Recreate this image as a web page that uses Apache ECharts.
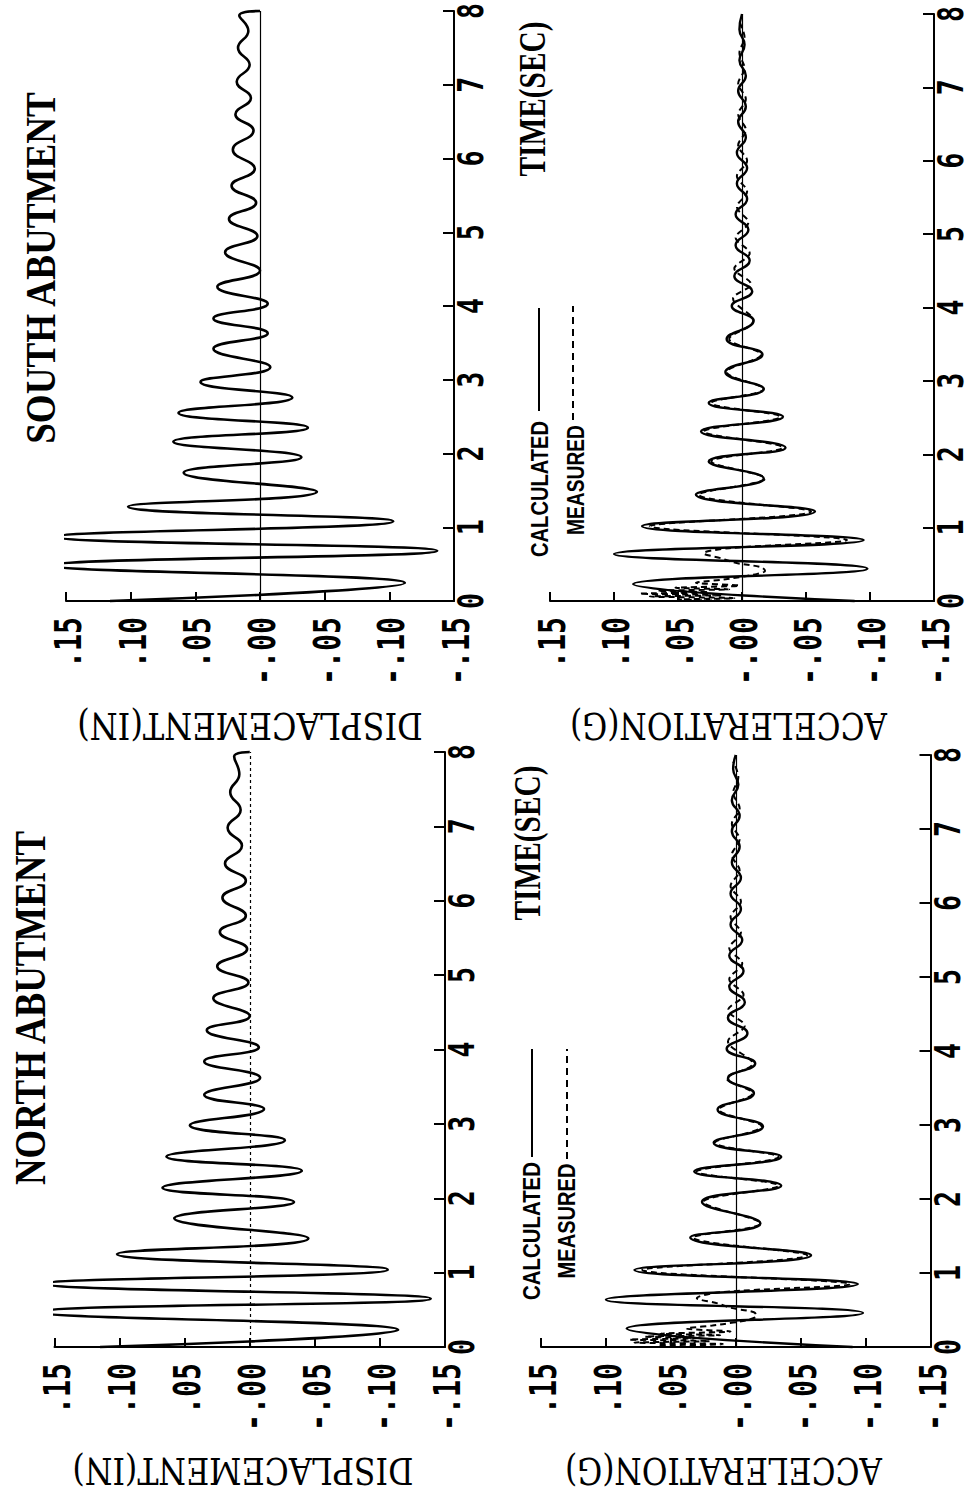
<!DOCTYPE html>
<html>
<head>
<meta charset="utf-8">
<script src="https://cdn.jsdelivr.net/npm/echarts@6/dist/echarts.min.js"></script>
<style>
html,body{margin:0;padding:0;background:#fff;}
#c{width:974px;height:1492px;}
</style>
</head>
<body>
<div id="c"></div>
<script>
// ---------- tick labels ----------
const timeTicks = [0, 1, 2, 3, 4, 5, 6, 7, 8];
const timeTickLabels = ['0', '1', '2', '3', '4', '5', '6', '7', '8'];
const valueTicks = [0.15, 0.10, 0.05, 0, -0.05, -0.10, -0.15];
const valueTickLabels = ['.15', '.10', '.05', '-.00', '-.05', '-.10', '-.15'];

// ---------- texts ----------
const titleSouth = 'SOUTH ABUTMENT';
const titleNorth = 'NORTH ABUTMENT';
const nameDisp = 'DISPLACEMENT(IN)';
const nameAcc = 'ACCELERATION(G)';
const nameTime = 'TIME(SEC)';
const legendCalc = 'CALCULATED';
const legendMeas = 'MEASURED';

// ---------- South abutment displacement (in) vs time (sec) ----------
const southDispT = [0.00,0.245,0.48,0.68,0.87,1.08,1.28,1.48,1.74,1.95,
  2.16,2.35,2.55,2.76,2.97,3.17,3.42,3.63,3.83,4.03,
  4.26,4.48,4.73,4.95,5.18,5.40,5.63,5.86,6.12,6.38,
  6.60,6.82,7.04,7.27,7.50,7.73,7.94,8.00];
const southDispV = [0.116,-0.112,0.160,-0.137,0.157,-0.103,0.102,-0.044,0.059,-0.032,
  0.067,-0.037,0.063,-0.025,0.046,-0.008,0.036,-0.006,0.036,-0.006,
  0.033,0.000,0.027,0.002,0.024,0.003,0.022,0.004,0.021,0.005,
  0.019,0.007,0.018,0.008,0.017,0.009,0.016,0.000];

// ---------- South abutment acceleration (g) ----------
const southCalcT = [0.00,0.23,0.44,0.64,0.83,1.02,1.22,1.45,1.67,1.90,
  2.09,2.31,2.51,2.70,2.89,3.12,3.36,3.57,3.82,4.02,
  4.22,4.43,4.64,4.85,5.06,5.27,5.48,5.69,5.90,6.11,
  6.32,6.53,6.74,6.95,7.16,7.37,7.58,7.79,8.00];
const southCalcV = [-0.088,0.085,-0.098,0.100,-0.095,0.078,-0.057,0.036,-0.017,0.026,
  -0.034,0.032,-0.032,0.026,-0.017,0.013,-0.016,0.012,-0.009,0.008,
  -0.008,0.006,-0.006,0.005,-0.005,0.005,-0.004,0.004,-0.004,0.004,
  -0.003,0.003,-0.003,0.003,-0.003,0.002,-0.002,0.002,0.000];
const southMeasT = [0.00,0.02,0.04,0.06,0.08,0.10,0.12,0.14,0.16,0.18,
  0.21,0.25,0.29,0.33,0.37,0.41,0.46,0.52,0.58,0.65,
  0.72,0.83,1.02,1.22,1.45,1.67,1.90,2.09,2.31,2.51,
  2.70,2.89,3.12,3.36,3.57,3.82,4.12,4.32,4.53,4.74,
  4.95,5.16,5.37,5.58,5.79,6.00,6.21,6.42,6.63,6.84,
  7.05,7.26,7.47,7.68,7.89];
const southMeasV = [0.000,0.050,0.006,0.072,0.016,0.080,0.026,0.066,0.010,0.052,
  0.002,0.036,0.016,0.000,-0.012,-0.018,-0.015,0.005,0.016,0.030,
  0.010,-0.082,0.072,-0.054,0.034,-0.018,0.024,-0.032,0.030,-0.030,
  0.024,-0.017,0.012,-0.015,0.010,-0.009,0.007,-0.007,0.006,-0.006,
  0.005,-0.005,0.004,-0.004,0.004,-0.004,0.003,-0.003,0.003,-0.003,
  0.003,-0.002,0.002,-0.002,0.002];

// ---------- North abutment displacement (in) ----------
const northDispT = [0.00,0.23,0.47,0.65,0.85,1.04,1.25,1.46,1.73,1.95,
  2.14,2.37,2.56,2.78,2.98,3.20,3.39,3.62,3.84,4.03,
  4.26,4.45,4.69,4.90,5.12,5.35,5.58,5.80,6.04,6.27,
  6.50,6.74,6.98,7.22,7.46,7.70,7.94,8.00];
const northDispV = [0.115,-0.114,0.161,-0.139,0.157,-0.106,0.102,-0.045,0.058,-0.034,
  0.067,-0.040,0.064,-0.027,0.046,-0.011,0.035,-0.008,0.035,-0.007,
  0.033,0.000,0.028,0.001,0.025,0.002,0.023,0.003,0.021,0.003,
  0.019,0.006,0.017,0.007,0.015,0.008,0.012,0.000];

// ---------- North abutment acceleration (g) ----------
const northCalcT = [0.00,0.25,0.46,0.64,0.85,1.04,1.24,1.48,1.67,1.96,
  2.18,2.37,2.57,2.76,2.98,3.21,3.43,3.63,3.83,4.03,
  4.24,4.45,4.66,4.87,5.08,5.29,5.50,5.71,5.92,6.13,
  6.34,6.55,6.76,6.97,7.18,7.39,7.60,7.81,8.00];
const northCalcV = [-0.090,0.084,-0.098,0.100,-0.094,0.078,-0.058,0.035,-0.019,0.026,
  -0.035,0.032,-0.035,0.017,-0.021,0.014,-0.014,0.006,-0.015,0.007,
  -0.009,0.006,-0.007,0.005,-0.006,0.005,-0.005,0.004,-0.004,0.004,
  -0.004,0.003,-0.003,0.003,-0.003,0.003,-0.002,0.002,0.000];
const northMeasT = [0.00,0.02,0.04,0.06,0.08,0.10,0.12,0.14,0.16,0.18,
  0.21,0.25,0.29,0.33,0.37,0.42,0.47,0.53,0.59,0.66,
  0.74,0.85,1.04,1.24,1.48,1.67,1.96,2.18,2.37,2.57,
  2.76,2.98,3.21,3.43,3.63,3.83,4.13,4.34,4.55,4.76,
  4.97,5.18,5.39,5.60,5.81,6.02,6.23,6.44,6.65,6.86,
  7.07,7.28,7.49,7.70,7.91];
const northMeasV = [0.000,0.060,0.010,0.078,0.020,0.082,0.030,0.070,0.012,0.058,
  0.004,0.038,0.018,0.002,-0.010,-0.016,-0.014,0.004,0.014,0.030,
  0.012,-0.088,0.072,-0.055,0.033,-0.019,0.025,-0.033,0.030,-0.033,
  0.016,-0.020,0.013,-0.013,0.007,-0.013,0.006,-0.007,0.006,-0.006,
  0.005,-0.005,0.005,-0.004,0.004,-0.004,0.004,-0.003,0.003,-0.003,
  0.003,-0.003,0.002,-0.002,0.002];

// ---------- build ----------
function zip(vals, times) { return vals.map((v, i) => [v, times[i]]); }

const grids = [
  {left: 66, top: 11, width: 388, height: 590},
  {left: 550, top: 14, width: 384, height: 587},
  {left: 54.5, top: 752, width: 390.5, height: 595},
  {left: 541, top: 755, width: 389.5, height: 592}
];

const axisLineStyle = {color: '#000', width: 2};
const xAxes = grids.map((g, i) => ({
  type: 'value', gridIndex: i, min: -0.15, max: 0.15, interval: 0.05,
  inverse: true, position: 'bottom',
  axisLine: {show: true, onZero: false, lineStyle: axisLineStyle},
  axisTick: {show: true, inside: true, length: 9, lineStyle: {color: '#000', width: 2}},
  axisLabel: {show: false}, splitLine: {show: false}
}));
const yAxes = grids.map((g, i) => ({
  type: 'value', gridIndex: i, min: 0, max: 8, interval: 1, position: 'right',
  axisLine: {show: true, onZero: false, lineStyle: axisLineStyle},
  axisTick: {show: true, inside: true, length: 11, lineStyle: {color: '#000', width: 2}},
  axisLabel: {show: false}, splitLine: {show: false}
}));

function zeroLine(dashed) {
  return {
    silent: true, symbol: 'none', label: {show: false},
    lineStyle: {color: '#000', width: 1.2, type: dashed ? [3, 3] : 'solid'},
    data: [{xAxis: 0}]
  };
}
function lineSeries(i, data, opts) {
  return Object.assign({
    type: 'line', xAxisIndex: i, yAxisIndex: i, data: data,
    symbol: 'none', smooth: 0.5, clip: false, animation: false,
    lineStyle: {color: '#000', width: 2.4}
  }, opts || {});
}

const series = [
  lineSeries(0, zip(southDispV, southDispT), {markLine: zeroLine(false), lineStyle: {color: '#000', width: 2.6}}),
  lineSeries(1, zip(southCalcV, southCalcT), {markLine: zeroLine(false), lineStyle: {color: '#000', width: 2.4}}),
  lineSeries(1, zip(southMeasV, southMeasT), {smooth: 0.35, lineStyle: {color: '#000', width: 2, type: [6, 4]}}),
  lineSeries(2, zip(northDispV, northDispT), {markLine: zeroLine(true), lineStyle: {color: '#000', width: 2.6}}),
  lineSeries(3, zip(northCalcV, northCalcT), {markLine: zeroLine(false), lineStyle: {color: '#000', width: 2.4}}),
  lineSeries(3, zip(northMeasV, northMeasT), {smooth: 0.35, lineStyle: {color: '#000', width: 2, type: [6, 4]}})
];

const chart = echarts.init(document.getElementById('c'), null, {renderer: 'svg', width: 974, height: 1492});
chart.setOption({
  animation: false,
  backgroundColor: '#fff',
  grid: grids.map(g => Object.assign({containLabel: false, outerBoundsMode: 'none'}, g)),
  xAxis: xAxes,
  yAxis: yAxes,
  series: series
});

// ---------- text helpers (rotated, condensed like the plotter lettering) ----------
const mctx = document.createElement('canvas').getContext('2d');
function measure(str, size, family, weight) {
  mctx.font = (weight || 'normal') + ' ' + size + 'px ' + family;
  return mctx.measureText(str).width;
}
function txt(str, x, y, rot, size, family, weight, opts) {
  opts = opts || {};
  let sx = 1;
  if (opts.len) sx = opts.len / measure(str, size, family, weight);
  if (opts.sx) sx = opts.sx;
  return {
    type: 'text', x: x, y: y, rotation: rot, scaleX: sx, scaleY: 1, silent: true,
    style: {
      text: str, fontSize: size, fontFamily: family, fontWeight: weight || 'normal',
      fill: '#000', align: opts.align || 'center', verticalAlign: 'middle',
      textAlign: opts.align || 'center', textVerticalAlign: 'middle'
    }
  };
}
const R90 = Math.PI / 2;
const monoFont = "'DejaVu Sans Mono'";
const monoSize = 38;
const timeSize = 35;
const monoWeight = 'bold';
const monoSx = 17 / measure('0', monoSize, monoFont, monoWeight);
const timeSx = 16 / measure('0', timeSize, monoFont, monoWeight);

const g = [];
for (let i = 0; i < grids.length; i++) {
  valueTicks.forEach((v, k) => {
    const p = chart.convertToPixel({gridIndex: i}, [v, 0]);
    g.push(txt(valueTickLabels[k], p[0] + 2, p[1] + 16, R90, monoSize, monoFont, monoWeight, {sx: monoSx, align: 'right'}));
  });
  timeTicks.forEach((t, k) => {
    const p = chart.convertToPixel({gridIndex: i}, [-0.15, t]);
    g.push(txt(timeTickLabels[k], p[0] + 17, p[1], R90, timeSize, monoFont, monoWeight, {sx: timeSx}));
  });
}

const serif = "'Liberation Serif'";
const serifWide = "'DejaVu Serif'";
const sansBold = "'Liberation Sans'";
// titles
g.push(txt(titleSouth, 41, 268, R90, 42, serif, 'bold', {len: 354}));
g.push(txt(titleNorth, 30, 1008, R90, 44, serif, 'bold', {len: 356}));
// time axis names
g.push(txt(nameTime, 532, 99, R90, 37, serif, 'bold', {len: 155}));
g.push(txt(nameTime, 527, 843, R90, 37, serif, 'bold', {len: 155}));
// value axis names (upside down)
g.push(txt(nameDisp, 250, 726, Math.PI, 37, serifWide, 'normal', {len: 346}));
g.push(txt(nameAcc, 728.5, 726, Math.PI, 37, serifWide, 'normal', {len: 317}));
g.push(txt(nameDisp, 243, 1471, Math.PI, 37, serifWide, 'normal', {len: 341}));
g.push(txt(nameAcc, 723.5, 1471, Math.PI, 37, serifWide, 'normal', {len: 317}));
// legends
g.push(txt(legendCalc, 540, 489, R90, 24, sansBold, 'bold', {len: 136}));
g.push(txt(legendMeas, 575.5, 480, R90, 24, sansBold, 'bold', {len: 110}));
g.push(txt(legendCalc, 532, 1231, R90, 24, sansBold, 'bold', {len: 138}));
g.push(txt(legendMeas, 567, 1221, R90, 24, sansBold, 'bold', {len: 115}));
function seg(x1, y1, x2, y2, dash) {
  return {type: 'line', silent: true, shape: {x1: x1, y1: y1, x2: x2, y2: y2},
    style: {stroke: '#000', lineWidth: 2, lineDash: dash || null}};
}
g.push(seg(539, 411, 539, 308));
g.push(seg(573, 420, 573, 306, [7, 5]));
g.push(seg(532, 1157, 532, 1049));
g.push(seg(567, 1159, 567, 1049, [7, 5]));

chart.setOption({graphic: g});
</script>
</body>
</html>
